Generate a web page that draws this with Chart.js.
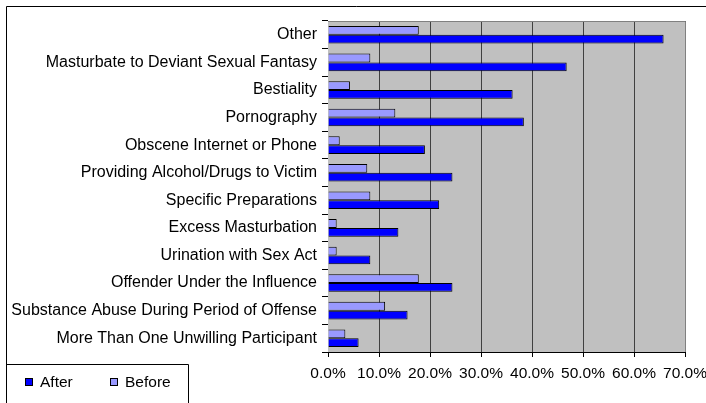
<!DOCTYPE html>
<html>
<head>
<meta charset="utf-8">
<script src="https://cdn.jsdelivr.net/npm/chart.js@4.4.1/dist/chart.umd.min.js"></script>
<style>
  html, body { margin: 0; padding: 0; background: #fff; }
  #wrap { position: relative; width: 706px; height: 403px; }
</style>
</head>
<body>
<div id="wrap"><canvas id="myChart"></canvas></div>
<script>
// カテゴリ（上から順）
const categories = [
    'Other',
    'Masturbate to Deviant Sexual Fantasy',
    'Bestiality',
    'Pornography',
    'Obscene Internet or Phone',
    'Providing Alcohol/Drugs to Victim',
    'Specific Preparations',
    'Excess Masturbation',
    'Urination with Sex Act',
    'Offender Under the Influence',
    'Substance Abuse During Period of Offense',
    'More Than One Unwilling Participant'
];

// 値（%）
const beforeValues = [17.8, 8.3, 4.3, 13.2, 2.3, 7.7, 8.3, 1.7, 1.7, 17.8, 11.2, 3.4];
const afterValues = [65.8, 46.8, 36.2, 38.4, 19.0, 24.4, 21.8, 13.8, 8.3, 24.4, 15.6, 6.0];

// 横軸の目盛り
const xTickLabels = ['0.0%', '10.0%', '20.0%', '30.0%', '40.0%', '50.0%', '60.0%', '70.0%'];

const FONT = "'Liberation Sans', Arial, sans-serif";

// 灰色の背景と枠、凡例を描くプラグイン
const decor = {
    id: 'decor',
    beforeDatasetsDraw(chart) {
        const { ctx, chartArea: a } = chart;
        ctx.save();
        ctx.fillStyle = '#c0c0c0';
        ctx.fillRect(a.left, a.top, a.right - a.left, a.bottom - a.top);
        // 縦の目盛線
        const x = chart.scales.x;
        ctx.strokeStyle = '#404040';
        ctx.lineWidth = 1;
        for (let v = 10; v <= 70; v += 10) {
            const px = Math.round(x.getPixelForValue(v)) + 0.5;
            ctx.beginPath();
            ctx.moveTo(px, a.top);
            ctx.lineTo(px, a.bottom);
            ctx.stroke();
        }
        ctx.strokeStyle = '#808080';
        ctx.beginPath();
        ctx.moveTo(a.left, Math.round(a.top) + 0.5);
        ctx.lineTo(Math.round(a.right) + 0.5, Math.round(a.top) + 0.5);
        ctx.lineTo(Math.round(a.right) + 0.5, a.bottom);
        ctx.stroke();
        ctx.restore();
    },
    afterDraw(chart) {
        const { ctx } = chart;
        ctx.save();
        // 外枠
        ctx.strokeStyle = '#000';
        ctx.lineWidth = 1;
        ctx.beginPath();
        ctx.moveTo(6.5, 410);
        ctx.lineTo(6.5, 6.5);
        ctx.lineTo(710, 6.5);
        ctx.stroke();
        // 凡例
        ctx.beginPath();
        ctx.moveTo(6.5, 364.5);
        ctx.lineTo(188.5, 364.5);
        ctx.lineTo(188.5, 410);
        ctx.stroke();
        const items = [chart.data.datasets[1], chart.data.datasets[0]];
        const xs = [25, 110];
        ctx.font = '15.5px ' + FONT;
        ctx.textBaseline = 'middle';
        items.forEach((ds, i) => {
            ctx.fillStyle = ds.backgroundColor;
            ctx.fillRect(xs[i] + 0.5, 378.5, 7, 7);
            ctx.strokeStyle = '#000';
            ctx.strokeRect(xs[i] + 0.5, 378.5, 7, 7);
            ctx.fillStyle = '#000';
            ctx.fillText(ds.label, xs[i] + 15, 382.5);
        });
        ctx.restore();
    }
};

function drawChart() {
    const ctx = document.getElementById('myChart').getContext('2d');

    const data = {
        labels: categories,
        datasets: [
            {
                label: 'Before',
                data: beforeValues,
                backgroundColor: '#9999ff',
                borderColor: '#000',
                borderWidth: 1,
                categoryPercentage: 0.64,
                barPercentage: 1.0
            },
            {
                label: 'After',
                data: afterValues,
                backgroundColor: '#0000ff',
                borderColor: '#000',
                borderWidth: 1,
                categoryPercentage: 0.64,
                barPercentage: 1.0
            }
        ]
    };

    const config = {
        type: 'bar',
        data: data,
        options: {
            indexAxis: 'y',
            responsive: true,
            maintainAspectRatio: false,
            animation: false,
            layout: { padding: { left: 0, top: 21, right: 21, bottom: 0 } },
            plugins: {
                legend: { display: false },
                tooltip: { enabled: false }
            },
            scales: {
                x: {
                    min: 0,
                    max: 70,
                    ticks: {
                        stepSize: 10,
                        color: '#000',
                        font: { family: FONT, size: 15.5 },
                        padding: 7,
                        maxRotation: 0,
                        callback: (v) => xTickLabels[Math.round(v / 10)]
                    },
                    grid: { drawOnChartArea: false, color: '#000', tickLength: 5 },
                    border: { color: '#000' },
                    afterFit: (s) => { s.height = 51; s.paddingLeft = 0; s.paddingRight = 0; }
                },
                y: {
                    ticks: {
                        color: '#000',
                        font: { family: FONT, size: 16 },
                        padding: 5,
                        autoSkip: false
                    },
                    grid: { drawOnChartArea: false, color: '#000', tickLength: 6, offset: true },
                    border: { color: '#000' },
                    afterFit: (s) => { s.width = 328; }
                }
            }
        },
        plugins: [decor]
    };

    new Chart(ctx, config);
}

window.onload = drawChart;
</script>
</body>
</html>
